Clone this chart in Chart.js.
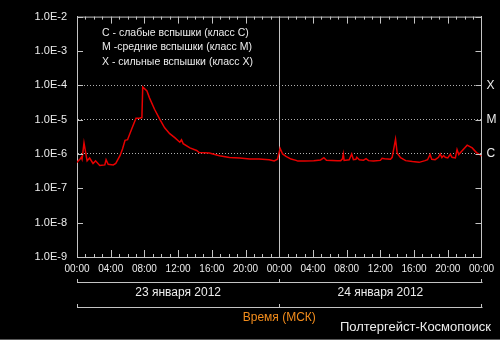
<!DOCTYPE html>
<html>
<head>
<meta charset="utf-8">
<script src="https://cdn.jsdelivr.net/npm/chart.js@4.4.0/dist/chart.umd.min.js"></script>
<style>
  html, body { margin: 0; padding: 0; background: #000; }
  #wrap { width: 500px; height: 340px; }
</style>
</head>
<body>
<div id="wrap"><canvas id="chart" width="500" height="340"></canvas></div>
<script>
// hours from 23.01.2012 00:00 MSK, X-ray flux (W/m2)
const hours = [0, 0.15, 0.35, 0.5, 0.6, 0.83, 1.2, 1.5, 1.9, 2.2, 2.7, 3.3, 3.45, 3.7, 4.3, 4.6,
  5.1, 5.4, 5.7, 6.0, 6.5, 7.0, 7.4, 7.7, 7.8, 8.3, 8.6, 9.2, 9.8, 10.4, 11.0, 11.6, 12.2, 12.4,
  12.6, 13.4, 14.2, 14.5, 15.7, 16.9, 18.1, 19.3, 20.5, 21.6, 22.8, 23.4, 23.8, 24.1, 24.4, 24.8,
  25.4, 26.0, 26.2, 27.0, 28.1, 28.9, 29.3, 29.6, 30.9, 31.3, 31.5, 31.6, 31.7, 32.3, 32.6, 32.8,
  33.1, 33.2, 33.5, 34.0, 34.3, 34.6, 35.2, 36.0, 36.2, 36.5, 37.2, 37.4, 37.8, 38.0, 38.4, 39.0,
  39.8, 40.6, 41.3, 41.6, 41.9, 42.1, 42.5, 42.9, 43.1, 43.3, 43.5, 43.7, 44.0, 44.3, 44.5, 44.9,
  45.1, 45.3, 45.7, 46.3, 46.9, 47.4, 47.9, 48.0];
const flux = [5.6e-7, 6.3e-7, 7.0e-7, 8.0e-7, 7.0e-7, 2.1e-6, 6.3e-7, 7.6e-7, 5.3e-7, 6.3e-7, 4.6e-7, 4.8e-7, 6.8e-7, 5.0e-7, 4.8e-7, 5.3e-7,
  8.9e-7, 1.4e-6, 2.5e-6, 2.6e-6, 5.4e-6, 1.1e-5, 1.1e-5, 1.15e-5, 8.9e-5, 6.8e-5, 4.3e-5, 2.0e-5, 1.05e-5, 5.8e-6, 3.9e-6, 3.0e-6, 2.2e-6, 2.6e-6,
  2.0e-6, 1.5e-6, 1.26e-6, 1.1e-6, 1.07e-6, 8.9e-7, 7.9e-7, 7.6e-7, 7.1e-7, 7.1e-7, 6.8e-7, 6.3e-7, 7.0e-7, 1.45e-6, 1.0e-6, 8.5e-7,
  7.1e-7, 6.5e-7, 6.2e-7, 6.2e-7, 6.4e-7, 6.7e-7, 7.8e-7, 6.6e-7, 6.4e-7, 6.4e-7, 7.2e-7, 1.0e-6, 6.5e-7, 6.8e-7, 1.0e-6, 6.8e-7,
  7.0e-7, 8.0e-7, 6.8e-7, 6.6e-7, 7.3e-7, 6.4e-7, 6.2e-7, 6.5e-7, 7.5e-7, 7.3e-7, 7.0e-7, 8.0e-7, 2.7e-6, 1.05e-6, 7.8e-7, 6.4e-7,
  6.0e-7, 5.7e-7, 6.4e-7, 6.8e-7, 9.7e-7, 7.0e-7, 6.8e-7, 8.0e-7, 1.0e-6, 7.8e-7, 9.0e-7, 8.0e-7, 7.7e-7, 9.8e-7, 8.0e-7, 7.7e-7,
  1.35e-6, 9.7e-7, 1.25e-6, 1.8e-6, 1.5e-6, 1.1e-6, 9.3e-7, 8.5e-7];

const yTicks = [1e-2, 1e-3, 1e-4, 1e-5, 1e-6, 1e-7, 1e-8, 1e-9];
const classLevels = { "-4": "X", "-5": "M", "-6": "C" };
const days = ["23 января 2012", "24 января 2012"];
const legendLines = ["C - слабые вспышки (класс C)", "M -средние вспышки (класс M)", "X - сильные вспышки (класс X)"];
const axisTitle = "Время (МСК)";
const signature = "Полтергейст-Космопоиск";

const axisColor = "#c4c4c4";
const textColor = "#ececec";
const font = "Liberation Sans, Arial, sans-serif";

const exp = v => Math.round(Math.log10(v));

const decor = {
    id: "decor",
    afterDraw(chart) {
        const ctx = chart.ctx;
        const a = chart.chartArea;
        const x = chart.scales.x, y = chart.scales.y;
        ctx.save();
        ctx.strokeStyle = axisColor;
        ctx.lineWidth = 1;
        ctx.beginPath();
        // top border
        ctx.moveTo(a.left, a.top + 0.5);
        ctx.lineTo(a.right, a.top + 0.5);
        // hour ticks, top and bottom, pointing inside
        for (let h = 0; h <= 48; h++) {
            const px = Math.round(x.getPixelForValue(h)) + 0.5;
            const len = h % 4 === 0 ? 7 : 3;
            ctx.moveTo(px, a.top);
            ctx.lineTo(px, a.top + len);
            ctx.moveTo(px, a.bottom);
            ctx.lineTo(px, a.bottom - len);
        }
        // decade ticks, left and right
        yTicks.forEach(v => {
            const py = Math.round(y.getPixelForValue(v)) + 0.5;
            ctx.moveTo(a.left, py);
            ctx.lineTo(a.left + 6, py);
            ctx.moveTo(a.right - 6, py);
            ctx.lineTo(a.right, py);
        });
        // day brackets
        [282, 307].forEach(ly => {
            ctx.moveTo(x.getPixelForValue(0), ly + 0.5);
            ctx.lineTo(x.getPixelForValue(48) + 1, ly + 0.5);
            [0, 24, 48].forEach(h => {
                const px = Math.round(x.getPixelForValue(h)) + 0.5;
                ctx.moveTo(px, ly - 3);
                ctx.lineTo(px, ly);
            });
        });
        ctx.stroke();

        ctx.fillStyle = textColor;
        ctx.textBaseline = "middle";
        ctx.textAlign = "center";
        ctx.font = "12px " + font;
        days.forEach((d, i) => {
            ctx.fillText(d, x.getPixelForValue(i * 24 + 12), 293);
        });

        ctx.textAlign = "left";
        ctx.font = "10.5px " + font;
        legendLines.forEach((t, i) => {
            ctx.fillText(t, 102, 33 + i * 14.5);
        });

        ctx.textAlign = "center";
        ctx.font = "12px " + font;
        ctx.fillStyle = "#f28c1c";
        ctx.fillText(axisTitle, (a.left + a.right) / 2, 318);

        ctx.textAlign = "right";
        ctx.font = "13px " + font;
        ctx.fillStyle = textColor;
        ctx.fillText(signature, 491, 327);

        ctx.strokeStyle = "#5a5a5a";
        ctx.beginPath();
        ctx.moveTo(0, 339.5);
        ctx.lineTo(500, 339.5);
        ctx.stroke();
        ctx.restore();
    }
};

new Chart("chart", {
    type: "line",
    data: {
        datasets: [{
            data: hours.map((h, i) => ({ x: h, y: flux[i] })),
            borderColor: "#e60000",
            borderWidth: 1.5,
            pointRadius: 0,
            tension: 0,
            yAxisID: "y",
            xAxisID: "x"
        }]
    },
    options: {
        responsive: false,
        animation: false,
        events: [],
        layout: { padding: { top: 15, left: 0, right: 0, bottom: 0 } },
        plugins: { legend: { display: false }, tooltip: { enabled: false } },
        scales: {
            x: {
                type: "linear",
                position: "bottom",
                min: 0,
                max: 48,
                afterFit: s => { s.height = 83; },
                afterBuildTicks: s => {
                    s.ticks = [];
                    for (let h = 0; h <= 48; h += 4) s.ticks.push({ value: h });
                },
                ticks: {
                    autoSkip: false,
                    maxRotation: 0,
                    padding: 6,
                    color: textColor,
                    font: { family: font, size: 10 },
                    callback: v => String(v % 24).padStart(2, "0") + ":00"
                },
                grid: {
                    drawTicks: false,
                    color: c => (c.tick && c.tick.value === 24 ? axisColor : "transparent"),
                    lineWidth: 1
                },
                border: { display: true, color: axisColor, width: 1 }
            },
            y: {
                type: "logarithmic",
                position: "left",
                min: 1e-9,
                max: 1e-2,
                afterFit: s => { s.width = 77; },
                afterBuildTicks: s => { s.ticks = yTicks.map(v => ({ value: v })); },
                ticks: {
                    padding: 10,
                    color: textColor,
                    font: { family: font, size: 11 },
                    callback: v => "1.0E" + exp(v)
                },
                grid: {
                    drawTicks: false,
                    color: c => (c.tick && classLevels[exp(c.tick.value)] ? "#b0b0b0" : "transparent"),
                    lineWidth: 1
                },
                border: { display: true, color: axisColor, width: 1, dash: [1, 2] }
            },
            y2: {
                type: "logarithmic",
                position: "right",
                min: 1e-9,
                max: 1e-2,
                afterFit: s => { s.width = 17; },
                afterBuildTicks: s => { s.ticks = yTicks.map(v => ({ value: v })); },
                ticks: {
                    padding: 5,
                    color: textColor,
                    font: { family: font, size: 12 },
                    callback: v => classLevels[exp(v)] || ""
                },
                grid: { drawOnChartArea: false, drawTicks: false },
                border: { display: true, color: axisColor, width: 1 }
            }
        }
    },
    plugins: [decor]
});
</script>
</body>
</html>
